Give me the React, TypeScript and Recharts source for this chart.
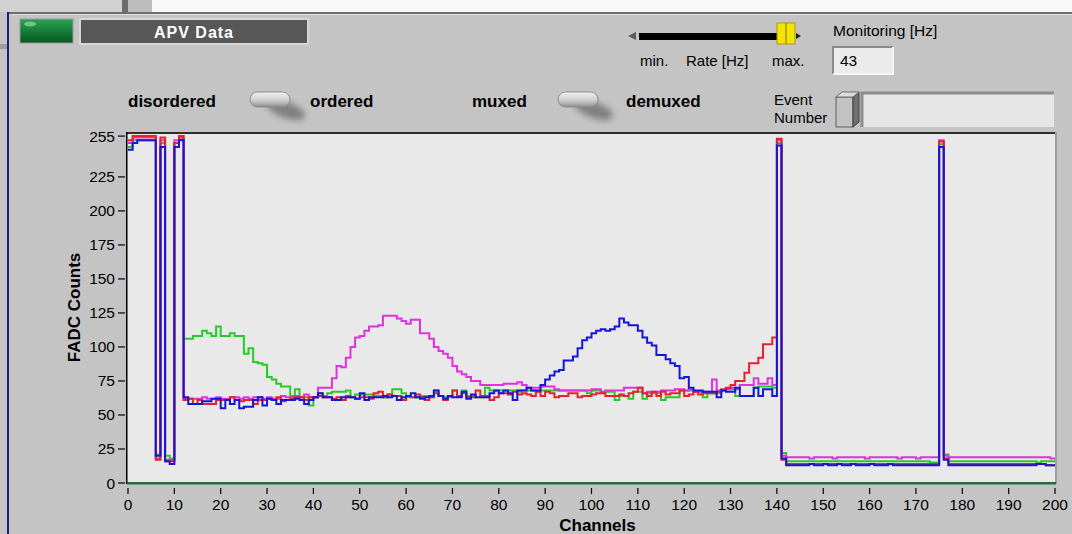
import React from "react";
import { LineChart, Line, XAxis, YAxis } from "recharts";

// FADC counts per channel, one value per channel 0..200 (last one closes the step)
const channelTicks = [0, 10, 20, 30, 40, 50, 60, 70, 80, 90, 100, 110, 120, 130, 140, 150, 160, 170, 180, 190, 200];
const countTicks = [0, 25, 50, 75, 100, 125, 150, 175, 200, 225, 255];

const red = [
  252, 255, 255, 255, 255, 255, 17, 254, 16, 16,
  250, 255, 61, 62, 58, 61, 58, 58, 58, 61,
  61, 61, 63, 61, 60, 61, 61, 58, 61, 61,
  62, 61, 63, 60, 61, 62, 63, 63, 61, 63,
  63, 64, 63, 63, 62, 63, 61, 64, 63, 62,
  63, 63, 62, 66, 67, 63, 65, 64, 64, 61,
  64, 63, 65, 63, 61, 63, 66, 64, 61, 64,
  68, 64, 66, 63, 63, 68, 64, 64, 61, 63,
  66, 66, 65, 67, 65, 66, 65, 64, 67, 64,
  67, 66, 63, 64, 64, 66, 66, 63, 64, 64,
  65, 66, 66, 64, 64, 64, 65, 64, 66, 67,
  70, 66, 64, 67, 64, 67, 65, 66, 66, 68,
  64, 65, 67, 65, 66, 66, 66, 67, 68, 70,
  72, 75, 75, 81, 88, 88, 92, 102, 102, 107,
  253, 17, 14, 14, 14, 14, 14, 14, 14, 14,
  14, 14, 14, 14, 14, 14, 14, 14, 14, 14,
  14, 14, 14, 14, 14, 14, 14, 14, 14, 14,
  14, 14, 14, 14, 14, 251, 18, 14, 14, 14,
  14, 14, 14, 14, 14, 14, 14, 14, 14, 14,
  14, 14, 14, 14, 14, 14, 14, 14, 13, 13,
  13,
];

const green = [
  247, 252, 252, 252, 252, 252, 21, 250, 20, 18,
  250, 253, 106, 106, 108, 108, 112, 110, 108, 115,
  108, 108, 110, 108, 108, 95, 99, 89, 88, 87,
  78, 76, 73, 71, 71, 64, 69, 63, 63, 57,
  63, 66, 64, 66, 67, 67, 67, 68, 63, 65,
  65, 65, 65, 64, 64, 63, 65, 69, 69, 66,
  63, 63, 63, 64, 64, 63, 68, 64, 63, 63,
  68, 64, 68, 64, 64, 63, 63, 70, 68, 68,
  68, 68, 68, 68, 67, 68, 68, 68, 67, 68,
  68, 68, 68, 68, 68, 68, 68, 68, 68, 66,
  68, 68, 67, 67, 67, 61, 64, 64, 62, 67,
  67, 62, 66, 66, 66, 61, 63, 63, 63, 68,
  68, 68, 67, 67, 63, 66, 66, 66, 69, 69,
  69, 64, 64, 64, 64, 70, 71, 71, 71, 70,
  250, 22, 16, 16, 16, 16, 16, 16, 16, 16,
  16, 16, 16, 16, 16, 16, 16, 16, 16, 16,
  16, 16, 16, 16, 16, 16, 16, 16, 16, 16,
  16, 16, 16, 15, 15, 249, 21, 16, 16, 16,
  16, 16, 16, 16, 16, 16, 16, 16, 16, 16,
  16, 16, 16, 16, 16, 16, 15, 16, 16, 16,
  16,
];

const magenta = [
  250, 254, 254, 254, 254, 254, 18, 252, 17, 17,
  252, 254, 62, 62, 62, 62, 63, 62, 62, 63,
  62, 62, 63, 63, 62, 63, 62, 63, 63, 62,
  63, 62, 62, 64, 63, 63, 64, 63, 65, 63,
  63, 70, 70, 70, 77, 86, 85, 92, 100, 107,
  108, 112, 115, 115, 116, 123, 123, 123, 121, 119,
  117, 120, 120, 110, 110, 106, 100, 97, 95, 92,
  86, 82, 80, 78, 75, 75, 72, 72, 72, 72,
  72, 73, 73, 73, 74, 72, 70, 70, 70, 71,
  71, 71, 69, 68, 68, 68, 68, 68, 68, 68,
  69, 69, 67, 68, 68, 68, 68, 70, 70, 70,
  70, 66, 67, 67, 67, 68, 68, 68, 69, 69,
  68, 69, 67, 67, 67, 67, 76, 68, 69, 69,
  70, 69, 72, 72, 72, 77, 73, 73, 77, 72,
  252, 20, 19, 19, 19, 19, 19, 18, 19, 19,
  19, 19, 18, 19, 19, 19, 19, 19, 19, 18,
  19, 19, 19, 19, 19, 19, 18, 19, 19, 19,
  18, 19, 19, 19, 19, 252, 20, 19, 19, 19,
  19, 19, 19, 19, 19, 19, 19, 19, 19, 19,
  19, 19, 19, 19, 19, 19, 19, 19, 19, 18,
  18,
];

const blue = [
  245, 250, 252, 252, 252, 252, 20, 247, 16, 14,
  247, 252, 63, 58, 58, 58, 60, 60, 62, 62,
  55, 61, 58, 61, 55, 56, 56, 61, 63, 57,
  62, 61, 58, 61, 61, 61, 62, 61, 58, 61,
  63, 66, 63, 63, 61, 61, 63, 63, 63, 62,
  66, 61, 63, 63, 63, 64, 63, 64, 61, 63,
  64, 66, 63, 62, 63, 64, 68, 64, 62, 64,
  63, 63, 67, 62, 65, 63, 63, 63, 66, 68,
  66, 68, 66, 61, 68, 68, 70, 68, 68, 72,
  76, 79, 82, 83, 90, 90, 93, 99, 105, 107,
  110, 112, 113, 112, 113, 115, 121, 118, 116, 116,
  112, 107, 103, 101, 94, 94, 91, 88, 86, 77,
  78, 70, 68, 68, 67, 67, 67, 63, 68, 67,
  67, 70, 64, 64, 64, 70, 64, 69, 69, 64,
  248, 18, 13, 13, 13, 13, 13, 14, 13, 13,
  14, 13, 13, 14, 13, 13, 14, 13, 13, 13,
  14, 13, 13, 13, 14, 13, 13, 13, 13, 13,
  13, 13, 13, 13, 13, 247, 17, 13, 13, 13,
  13, 13, 13, 13, 13, 13, 13, 13, 13, 13,
  13, 13, 13, 13, 13, 13, 14, 14, 13, 13,
  13,
];

const data = red.map((v, i) => ({
  ch: i,
  red: v,
  green: green[i],
  magenta: magenta[i],
  blue: blue[i],
}));

const FONT = "'Liberation Sans', Arial, sans-serif";

const YTick = ({ x, y, payload }: any) => (
  <g>
    <line x1={x - 10} x2={x - 3} y1={y} y2={y} stroke="#000" strokeWidth={1.2} />
    <text x={x - 13} y={y} dy={5.5} textAnchor="end" fontSize={15.5} fill="#000">
      {payload.value}
    </text>
  </g>
);

const XTick = ({ x, y, payload }: any) => (
  <g>
    <line x1={x} x2={x} y1={y + 5} y2={y + 11} stroke="#000" strokeWidth={1.2} />
    <text x={x} y={y + 27} textAnchor="middle" fontSize={15.5} fill="#000">
      {payload.value}
    </text>
  </g>
);

function Toggle({ x, y }: { x: number; y: number }) {
  return (
    <g>
      <ellipse cx={x + 36} cy={y + 18} rx={20} ry={8} fill="#4a4a4a" opacity={0.55} filter="url(#blur)" transform={`rotate(20 ${x + 36} ${y + 18})`} />
      <rect x={x} y={y} width={40} height={15} rx={7.5} fill="url(#pill)" stroke="#8a8a8a" strokeWidth={1} />
    </g>
  );
}

function Panel() {
  return (
    <svg width={1072} height={534} style={{ position: "absolute", left: 0, top: 0 }} fontFamily={FONT}>
      <defs>
        <linearGradient id="led" x1="0" y1="0" x2="0" y2="1">
          <stop offset="0" stopColor="#2aa455" />
          <stop offset="1" stopColor="#06561f" />
        </linearGradient>
        <linearGradient id="pill" x1="0" y1="0" x2="0" y2="1">
          <stop offset="0" stopColor="#f4f4f4" />
          <stop offset="0.6" stopColor="#c8c8c8" />
          <stop offset="1" stopColor="#8c8c8c" />
        </linearGradient>
        <filter id="blur" x="-50%" y="-50%" width="200%" height="200%">
          <feGaussianBlur stdDeviation="3" />
        </filter>
      </defs>

      {/* window behind the panel */}
      <rect x={0} y={0} width={122} height={12} fill="#d2d2d2" />
      <rect x={122} y={0} width={6} height={12} fill="#6c6c6c" />
      <rect x={128} y={0} width={24} height={12} fill="#bdbdbd" />
      <rect x={152} y={0} width={920} height={12} fill="#f8f8f8" />
      <rect x={0} y={44} width={7} height={5} fill="#9c9c9c" />
      <rect x={9} y={12} width={1063} height={2} fill="#6e6e6e" />
      <rect x={11} y={14} width={1061} height={1} fill="#e2e2e2" />
      <rect x={7} y={12} width={2} height={522} fill="#1c1c80" />

      {/* title */}
      <rect x={20} y={19} width={53} height={24} fill="url(#led)" stroke="#9a9a9a" strokeWidth={1} />
      <ellipse cx={30} cy={24} rx={6} ry={2.5} fill="#8fd8a8" opacity={0.7} />
      <rect x={80} y={19} width={228} height={25} fill="#575757" stroke="#d6d6d6" strokeWidth={2} />
      <text x={194} y={38} textAnchor="middle" fontSize={16} fontWeight={700} fill="#fff" letterSpacing={1}>
        APV Data
      </text>

      {/* rate slider */}
      <polygon points="628,36 636,32 636,40" fill="#5a5a5a" />
      <rect x={639} y={33} width={150} height={7} fill="#000" />
      <polygon points="796,33 796,39 801,36" fill="#222" />
      <rect x={777} y={23} width={18} height={21} fill="#f3e500" stroke="#b09a00" strokeWidth={1} />
      <line x1={786} x2={786} y1={23} y2={44} stroke="#a88f00" strokeWidth={1.5} />
      <text x={640} y={66} fontSize={15} fill="#000">min.</text>
      <text x={686} y={66} fontSize={15} fill="#000">Rate [Hz]</text>
      <text x={772} y={66} fontSize={15} fill="#000">max.</text>

      <text x={833} y={36} fontSize={15.5} fill="#000">Monitoring [Hz]</text>
      <rect x={833} y={47} width={60} height={27} fill="#ebebeb" />
      <path d="M833,74 L833,47 L893,47" fill="none" stroke="#8a8a8a" strokeWidth={2} />
      <path d="M893,47 L893,74 L833,74" fill="none" stroke="#f6f6f6" strokeWidth={2} />
      <text x={840} y={66} fontSize={15.5} fill="#000">43</text>

      {/* switches */}
      <text x={128} y={107} fontSize={17} fontWeight={700} fill="#000">disordered</text>
      <Toggle x={250} y={92} />
      <text x={310} y={107} fontSize={17} fontWeight={700} fill="#000">ordered</text>
      <text x={472} y={107} fontSize={17} fontWeight={700} fill="#000">muxed</text>
      <Toggle x={558} y={92} />
      <text x={626} y={107} fontSize={17} fontWeight={700} fill="#000">demuxed</text>

      {/* event number */}
      <text x={774} y={105} fontSize={15} fill="#000">Event</text>
      <text x={774} y={123} fontSize={15} fill="#000">Number</text>
      <rect x={862} y={93} width={192} height={34} fill="#e6e6e6" />
      <path d="M862,127 L862,93 L1054,93" fill="none" stroke="#8c8c8c" strokeWidth={3} />
      <rect x={836} y={97} width={17} height={30} fill="#c2c2c2" stroke="#5e5e5e" strokeWidth={1} />
      <polygon points="853,97 859,92 859,122 853,127" fill="#707070" stroke="#3e3e3e" strokeWidth={1} />
      <polygon points="836,97 842,92 859,92 853,97" fill="#dcdcdc" stroke="#6e6e6e" strokeWidth={1} />

      {/* plot frame */}
      <rect x={127} y={132} width={929} height={352} fill="#e9e9e9" />
      <rect x={127} y={132} width={929} height={2} fill="#2e2e2e" />
      <rect x={126} y={132} width={1.5} height={352} fill="#000" />
      <rect x={1055} y={132} width={2} height={352} fill="#9e9e9e" />
      <rect x={127} y={482} width={929} height={2.5} fill="#1f6e3e" />
    </svg>
  );
}

export default function App() {
  return (
    <div
      style={{
        position: "fixed",
        left: 0,
        top: 0,
        width: 1072,
        height: 534,
        overflow: "hidden",
        background: "#c4c4c4",
        fontFamily: FONT,
      }}
    >
      <Panel />
      <div style={{ position: "absolute", left: 0, top: 0 }}>
        <LineChart width={1072} height={534} data={data} margin={{ top: 132, right: 17, bottom: 0, left: 0 }}>
          <XAxis
            type="number"
            dataKey="ch"
            domain={[0, 200]}
            ticks={channelTicks}
            interval={0}
            axisLine={false}
            tickLine={false}
            tickSize={0}
            tickMargin={0}
            height={51}
            tick={<XTick />}
            label={{ value: "Channels", position: "insideBottom", offset: 3, dx: 6, fill: "#000", style: { fontWeight: 700, fontSize: 17 } }}
          />
          <YAxis
            type="number"
            domain={[0, 258]}
            ticks={countTicks}
            interval={0}
            axisLine={false}
            tickLine={false}
            tickSize={0}
            tickMargin={0}
            width={128}
            tick={<YTick />}
            label={{ value: "FADC Counts", angle: -90, position: "insideLeft", offset: 74, fill: "#000", style: { textAnchor: "middle", fontWeight: 700, fontSize: 17 } }}
          />
          <Line type="stepAfter" dataKey="green" stroke="#26cc26" strokeWidth={2} dot={false} activeDot={false} isAnimationActive={false} />
          <Line type="stepAfter" dataKey="magenta" stroke="#e030e0" strokeWidth={2} dot={false} activeDot={false} isAnimationActive={false} />
          <Line type="stepAfter" dataKey="red" stroke="#e8202c" strokeWidth={2} dot={false} activeDot={false} isAnimationActive={false} />
          <Line type="stepAfter" dataKey="blue" stroke="#1616d6" strokeWidth={2} dot={false} activeDot={false} isAnimationActive={false} />
        </LineChart>
      </div>
    </div>
  );
}
